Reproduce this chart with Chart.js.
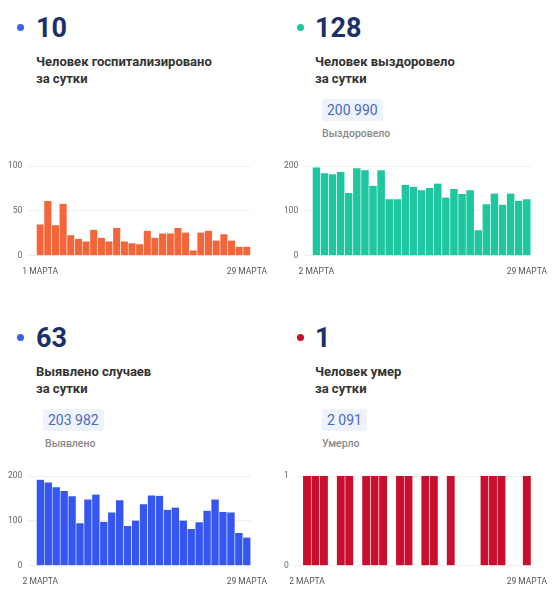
<!DOCTYPE html>
<html><head><meta charset="utf-8">
<script src="https://cdn.jsdelivr.net/npm/chart.js@4"></script>
<style>
body{margin:0;width:555px;height:600px;background:#fff;font-family:Roboto,sans-serif;position:relative;overflow:hidden}
.dot{position:absolute;width:7px;height:7px;border-radius:50%}
.num{position:absolute;font-size:27px;font-weight:700;color:#1b2f6b;line-height:1}
.sub{position:absolute;font-size:13px;font-weight:700;color:#333;line-height:17px}
.box{position:absolute;background:#eef3fb;color:#4a68c4;font-size:14px;padding:3px 5px;border-radius:3px}
.lbl{position:absolute;font-size:10.5px;color:#888;font-weight:500}
.c{position:absolute}
</style></head><body>
<div class="dot" style="left:17px;top:24px;background:#3d5ff0"></div><div class="num" style="left:36px;top:15px">10</div>
<div class="sub" style="left:36px;top:53px">Человек госпитализировано<br>за сутки</div>
<div class="dot" style="left:297px;top:24px;background:#1fc7a0"></div><div class="num" style="left:315px;top:15px">128</div>
<div class="sub" style="left:315px;top:53px">Человек выздоровело<br>за сутки</div>
<div class="box" style="left:322px;top:99px">200 990</div>
<div class="lbl" style="left:322px;top:127px">Выздоровело</div>
<div class="dot" style="left:17px;top:334px;background:#3d5ff0"></div><div class="num" style="left:36px;top:325px">63</div>
<div class="sub" style="left:36px;top:363px">Выявлено случаев<br>за сутки</div>
<div class="box" style="left:43px;top:409px">203 982</div>
<div class="lbl" style="left:45px;top:437px">Выявлено</div>
<div class="dot" style="left:297px;top:334px;background:#c8102e"></div><div class="num" style="left:315px;top:325px">1</div>
<div class="sub" style="left:315px;top:363px">Человек умер<br>за сутки</div>
<div class="box" style="left:322px;top:409px">2 091</div>
<div class="lbl" style="left:322px;top:437px">Умерло</div>
<div class="c" style="left:2px;top:155px;width:268px;height:125px"><canvas id="c1"></canvas></div>
<div class="c" style="left:278px;top:155px;width:272px;height:125px"><canvas id="c2"></canvas></div>
<div class="c" style="left:2px;top:465px;width:268px;height:125px"><canvas id="c3"></canvas></div>
<div class="c" style="left:278px;top:465px;width:272px;height:125px"><canvas id="c4"></canvas></div>
<script>
const hosp=[35,61,34,58,23,19,16,29,20,16,31,16,14,13,28,20,25,25,31,26,6,26,28,17,24,17,10,10];
const recov=[197,184,182,187,140,195,191,156,191,126,126,158,154,146,151,161,130,149,138,146,57,115,139,114,139,123,126];
const cases=[192,186,175,167,155,95,148,159,98,119,146,89,101,137,157,156,125,130,101,82,97,123,148,120,119,73,63];
const deaths=[1,1,1,0,1,1,0,1,1,1,0,1,1,0,1,1,0,1,0,0,0,1,1,1,0,0,1];
const first1='1 МАРТА', first2='2 МАРТА', last='29 МАРТА';
function labels(n,f){return Array.from({length:n},(_,i)=>i===0?f:(i===n-1?last:''));}
function mk(id,data,f,color,max,step){
  new Chart(document.getElementById(id),{type:'bar',
    data:{labels:labels(data.length,f),datasets:[{data,backgroundColor:color,borderColor:'rgba(255,255,255,0.9)',borderWidth:{left:0.6,right:0.6},borderSkipped:'bottom',barPercentage:1,categoryPercentage:1}]},
    options:{responsive:true,maintainAspectRatio:false,animation:false,
      plugins:{legend:{display:false},tooltip:{enabled:false}},
      layout:{padding:{right:0}},
      scales:{x:{grid:{display:false},border:{display:false},ticks:{autoSkip:false,maxRotation:0,font:{size:8.5,family:'Roboto'},color:'#555',padding:3}},
        y:{min:0,max,ticks:{stepSize:step,font:{size:8.5,family:'Roboto'},color:'#666',padding:6},grid:{color:'#f0f0f0'},border:{display:false}}}}});
}
mk('c1',hosp,first1,'#f4653a',100,50);
mk('c2',recov,first2,'#1fc7a0',200,100);
mk('c3',cases,first2,'#3556f0',200,100);
mk('c4',deaths,first2,'#c8102e',1,1);
</script></body></html>
